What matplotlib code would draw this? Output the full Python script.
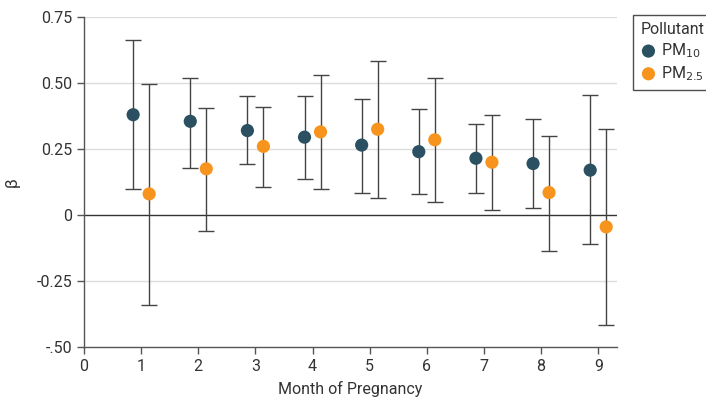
import matplotlib.pyplot as plt
import numpy as np

plt.rcParams['font.family'] = ['Roboto', 'DejaVu Sans']

months = [1, 2, 3, 4, 5, 6, 7, 8, 9]

# PM10 estimates and 95% CI
pm10_beta = [0.38, 0.355, 0.32, 0.295, 0.265, 0.24, 0.215, 0.195, 0.17]
pm10_lo = [0.10, 0.18, 0.195, 0.135, 0.085, 0.08, 0.085, 0.025, -0.11]
pm10_hi = [0.665, 0.52, 0.45, 0.45, 0.44, 0.40, 0.345, 0.365, 0.455]

# PM2.5 estimates and 95% CI
pm25_beta = [0.08, 0.175, 0.26, 0.315, 0.325, 0.285, 0.20, 0.085, -0.045]
pm25_lo = [-0.34, -0.06, 0.105, 0.10, 0.065, 0.05, 0.02, -0.135, -0.415]
pm25_hi = [0.495, 0.405, 0.41, 0.53, 0.585, 0.52, 0.38, 0.30, 0.325]

yticks = [-0.5, -0.25, 0, 0.25, 0.5, 0.75]
ytick_labels = ['-.50', '-0.25', '0', '0.25', '0.50', '0.75']

c_pm10 = '#2a5061'
c_pm25 = '#f7941d'
txt = '#333333'

fig = plt.figure(figsize=(7.06, 3.97), dpi=100)
ax = fig.add_axes([0.119, 0.126, 0.755, 0.831])

x = np.array(months)
off = 0.14

for xs, b, lo, hi, c, lab in [
    (x - off, pm10_beta, pm10_lo, pm10_hi, c_pm10, 'PM$_{10}$'),
    (x + off, pm25_beta, pm25_lo, pm25_hi, c_pm25, 'PM$_{2.5}$'),
]:
    b = np.array(b)
    err = [b - np.array(lo), np.array(hi) - b]
    ax.errorbar(xs, b, yerr=err, fmt='none', ecolor='#444444', elinewidth=1,
                capsize=6, capthick=1, zorder=2)
    ax.scatter(xs, b, s=90, color=c, edgecolors='none', zorder=3, label=lab)

ax.axhline(0, color='#333333', lw=1, zorder=1)
for yv in yticks:
    if yv not in (0, -0.5):
        ax.axhline(yv, color='#dddddd', lw=1, zorder=0)

ax.set_xlim(0, 9.33)
ax.set_ylim(-0.5, 0.75)
ax.set_xticks(range(0, 10))
ax.set_yticks(yticks)
ax.set_yticklabels(ytick_labels)

for s in ['top', 'right']:
    ax.spines[s].set_visible(False)
for s in ['left', 'bottom']:
    ax.spines[s].set_color('#555555')
    ax.spines[s].set_linewidth(1)
ax.tick_params(direction='out', length=5, width=1, color='#555555',
               labelcolor=txt, labelsize=11.5)

ax.set_xlabel('Month of Pregnancy', fontsize=11.5, color=txt, labelpad=5)
ax.set_ylabel('β', fontsize=12, color=txt, labelpad=12)

leg = fig.legend(title='Pollutant', loc='upper left', bbox_to_anchor=(0.897, 0.962),
                 frameon=True, fancybox=False, edgecolor='#222222', fontsize=11.5,
                 title_fontsize=11.5, handletextpad=0.3, borderpad=0.45,
                 borderaxespad=0, labelspacing=0.25, handlelength=1.0, markerscale=1.0)
leg._legend_box.align = 'left'
leg.get_frame().set_linewidth(1)
for t in leg.get_texts():
    t.set_color(txt)
leg.get_title().set_color(txt)

fig.savefig('out.png', dpi=100)
